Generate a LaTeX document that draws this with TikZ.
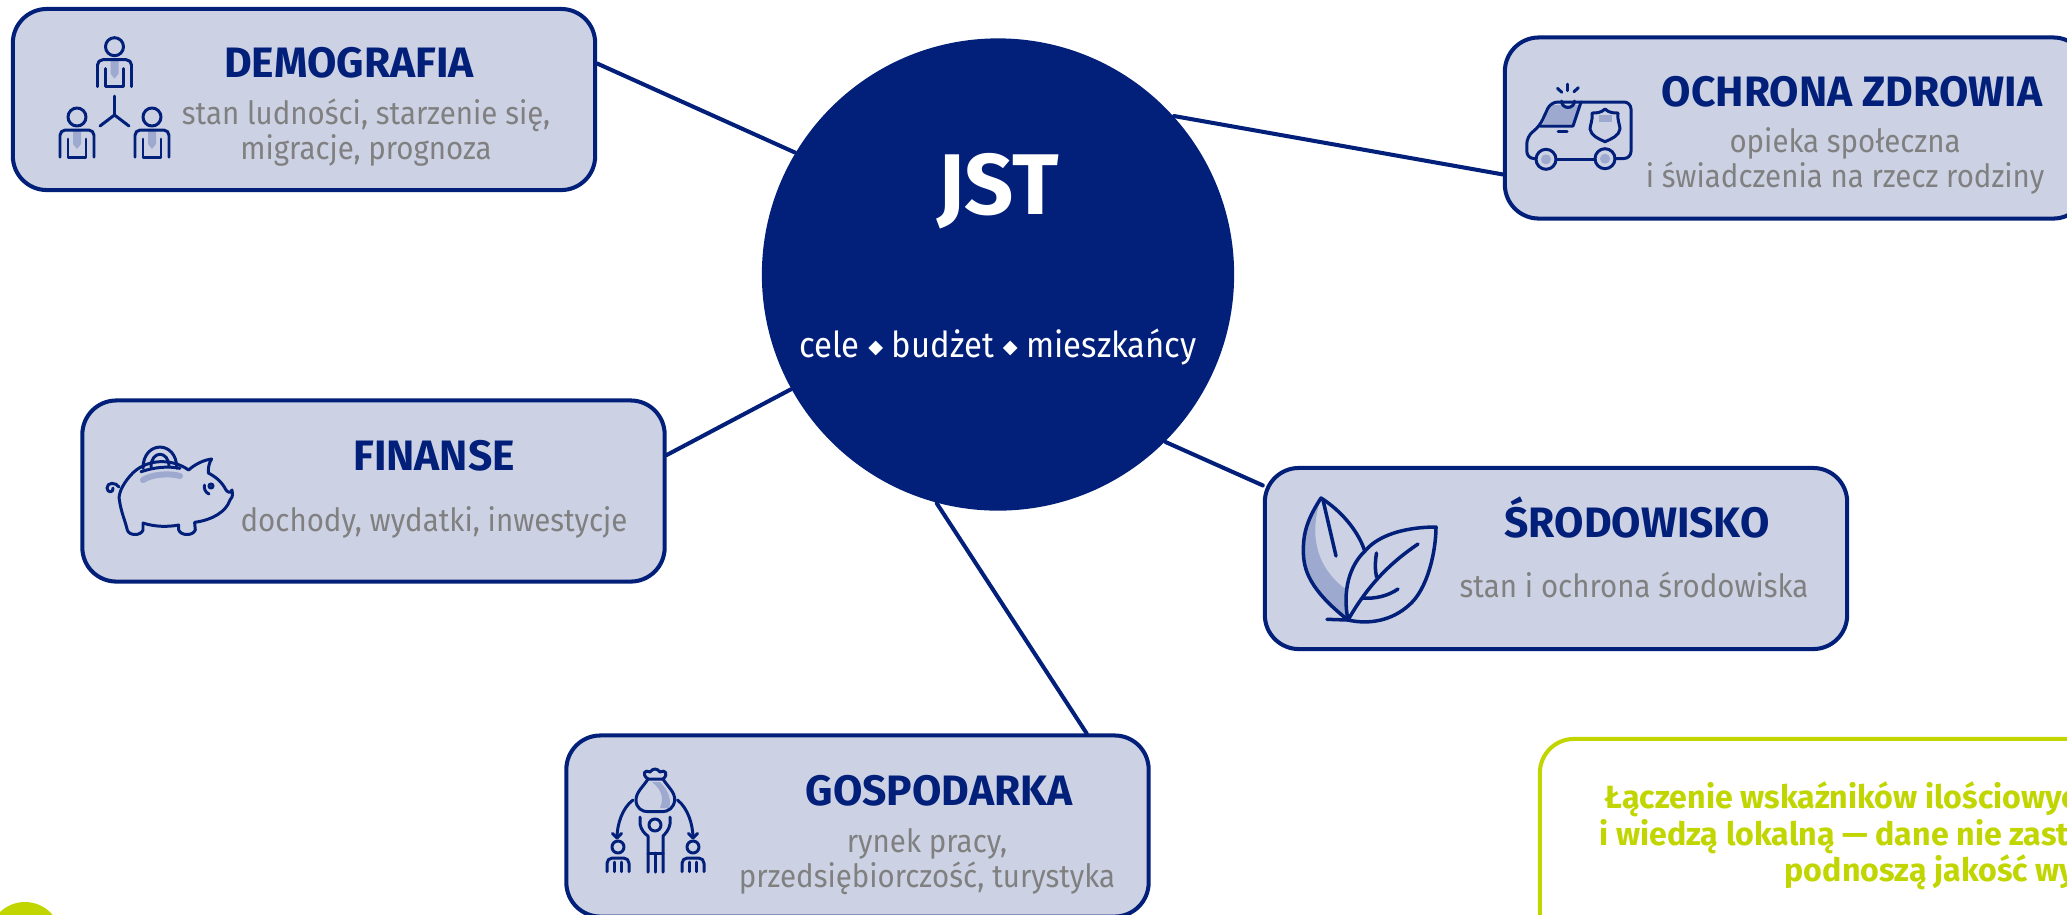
\documentclass[tikz,border=0pt]{standalone}
\usepackage{fontspec}
\setmainfont{Fira Sans}
\newfontfamily\symfont{DejaVu Sans}
\newfontfamily\opisfont{Fira Sans}[FakeStretch=0.92]
\definecolor{granat}{HTML}{02207A}
\definecolor{jasny}{HTML}{CCD2E4}
\definecolor{akcent}{HTML}{9DA9CE}
\definecolor{szary}{HTML}{808080}
\definecolor{limonka}{HTML}{C1D600}
\newcommand{\romb}{\raisebox{1.1pt}{\symfont\fontsize{5.5}{6}\selectfont ◆}}
\tikzset{
	kafel/.style={draw=granat,fill=jasny,line width=1.15pt,rounded corners=0.34cm,minimum width=5.82cm,minimum height=1.81cm,inner sep=0pt},
	naglowek/.style={text=granat,inner sep=0pt,font=\fontsize{12.1}{14}\selectfont\bfseries},
	opis/.style={text=szary,inner sep=0pt,align=center,font=\opisfont\fontsize{9.1}{10}\selectfont},
	linia/.style={draw=granat,line width=1.15pt},
	ikona/.style={draw=granat,line width=0.85pt,line cap=round,line join=round},
	plama/.style={fill=akcent,draw=none},
	osoba/.pic={
		\path[plama] (-4,13)--(4,13)--(4,27)--(0,32)--(-4,27)--cycle;
		\draw[ikona] (0,0) circle (9);
		\draw[ikona,rounded corners=1.5pt] (-17,40)--(-17,13)--(17,13)--(17,40);
		\draw[ikona] (-9,22)--(-9,40)--(9,40)--(9,22);
	}
}
\begin{document}
\begin{tikzpicture}[x=0.01cm,y=-0.01cm,line cap=round,line join=round]
	\useasboundingbox (0,0) rectangle (2067,914);
	\clip (0,0) rectangle (2067,914);
	% centre
	\node[circle,fill=granat,minimum size=4.72cm,inner sep=0pt] (jst) at (998,274.5) {};
	\node[text=white,inner sep=0pt,font=\fontsize{24.5}{26}\selectfont\bfseries] (jstnapis) at (998,191) {JST};
	\node[text=white,inner sep=0pt,font=\opisfont\fontsize{10.15}{12}\selectfont] (jstopis) at (998,347) {cele \romb{} budżet \romb{} mieszkańcy};
	% kafle
	\node[kafel] (demografia) at (304,99.5) {};
	\node[kafel] (zdrowie) at (1796,128) {};
	\node[kafel] (finanse) at (373.5,491) {};
	\node[kafel] (srodowisko) at (1556,558.5) {};
	\node[kafel] (gospodarka) at (857.5,826) {};
	\node[draw=limonka,fill=white,line width=1.15pt,rounded corners=0.34cm,minimum width=5.8cm,minimum height=2.2cm] (uwaga) at (1830,849) {};
	\node[circle,fill=limonka,minimum size=0.72cm,inner sep=0pt] (kropka) at (25,938) {};
	% linie
	\draw[linia] (demografia.7.15) -- (jst.149.6);
	\draw[linia] (zdrowie.189) -- (jst.42.1);
	\draw[linia] (finanse.7.6) -- (jst.209);
	\draw[linia] (srodowisko.166.7) -- (jst.-45.3);
	\draw[linia] (gospodarka.22.8) -- (jst.255.3);
	% teksty
	\node[naglowek] (t1) at (349,63) {DEMOGRAFIA};
	\node[opis] (o1) at (366,132.5) {stan ludności, starzenie się,\\migracje, prognoza};
	\node[naglowek] (t2) at (1852,92) {OCHRONA ZDROWIA};
	\node[opis] (o2) at (1845,161) {opieka społeczna\\i świadczenia na rzecz rodziny};
	\node[naglowek] (t3) at (434,456) {FINANSE};
	\node[opis] (o3) at (434,522) {dochody, wydatki, inwestycje};
	\node[naglowek] (t4) at (1637,518) {ŚRODOWISKO};
	\node[opis] (o4) at (1634,585) {stan i ochrona środowiska};
	\node[naglowek] (t5) at (939,791) {GOSPODARKA};
	\node[opis] (o5) at (927,862) {rynek pracy,\\przedsiębiorczość, turystyka};
	\begin{scope}[every node/.style={text=limonka,inner sep=0pt,anchor=base west,font=\fontsize{9.15}{11}\selectfont\bfseries}]
		\node (u1) at (1604,808) {Łączenie wskaźników ilościowyc};
		\node (u2) at (1599,845) {i wiedzą lokalną — dane nie zast};
		\node (u3) at (1784,881) {podnoszą jakość wy};
	\end{scope}
	% demografia
	\pic at (114.5,46.7) {osoba};
	\pic at (77,117) {osoba};
	\pic at (152,117) {osoba};
	\draw[ikona] (114.5,96) -- (114.5,115) -- (100,126);
	\draw[ikona] (114.5,115) -- (129,126);
	% karetka
	\path[plama] (1550.7,105) -- (1580,105) -- (1573,124) -- (1543,124) -- cycle;
	\path[plama] (1546,159.3) circle (5) (1605,158.7) circle (5);
	\path[plama] (1598.6,115) -- (1611.5,115) -- (1611.5,121.7) -- (1598.6,121.7) -- cycle;
	\draw[ikona,rounded corners=2pt] (1536,158.5) -- (1526.8,158.5) -- (1526.8,136.7) -- (1539.7,126) -- (1550.7,102) -- (1631,102) -- (1631,158.5) -- (1615,158.5);
	\draw[ikona] (1556,159) -- (1595,159);
	\draw[ikona] (1546,159.3) circle (10) (1605,158.7) circle (10);
	\draw[ikona] (1581,102) -- (1573,126) -- (1539.7,126);
	\draw[ikona] (1558,131.7) -- (1567,131.7);
	\draw[ikona] (1605,109) .. controls (1601,113) and (1596,113) .. (1592,113) .. controls (1593,120) and (1590,125) .. (1590,129) .. controls (1591,136) and (1599,139) .. (1605,141.7) .. controls (1611,139) and (1619,136) .. (1620,129) .. controls (1620,125) and (1617,120) .. (1618,113) .. controls (1614,113) and (1609,113) .. (1605,109);
	\draw[ikona] (1561.5,101) arc (180:0:6.5);
	\draw[ikona] (1567.5,84) -- (1567.5,90.7);
	\draw[ikona] (1557.4,88.3) -- (1561.8,92.3);
	\draw[ikona] (1578.3,87.7) -- (1574,91.7);
	% skarbonka
	\draw[akcent,line width=1.7pt] (143,480) .. controls (152,474) and (170,473) .. (180,476);
	\draw[ikona] (127.3,530) .. controls (129,536) and (141,536) .. (143,530) -- (143,523) .. controls (155,527) and (168,527) .. (178.7,525) -- (178.7,530) .. controls (181,536) and (193,536) .. (195.3,530) -- (194.6,522.3) .. controls (212,520) and (226,512) .. (230,500) .. controls (234,496) and (232,492) .. (232,490) .. controls (230,494) and (228,492) .. (226,490) .. controls (222,482) and (216,477) .. (208.4,473) .. controls (208,468) and (209,463) .. (211.6,459) .. controls (203,460) and (194,465) .. (188.6,470) .. controls (172,458) and (145,458) .. (130,476) .. controls (122,485) and (118,495) .. (119.4,500) .. controls (121,512) and (125,520) .. (127.3,530);
	\draw[ikona] (143,468.3) .. controls (143,440) and (177,440) .. (176.8,468.3);
	\draw[ikona] (151,467) .. controls (151,450) and (169,450) .. (169,467);
	\draw[ikona] (141,471.7) .. controls (155,467) and (168,466) .. (180,468.3);
	\draw[ikona] (119,487) .. controls (116,482) and (107,482) .. (107,488) .. controls (107,493) and (114,493) .. (113,488);
	\draw[ikona] (211,486) circle (2);
	\draw[ikona] (204.5,485) .. controls (204,489) and (205,492) .. (209,494);
	% liscie
	\path[plama] (1321,498) .. controls (1310,515) and (1303,530) .. (1303.4,550) .. controls (1303,570) and (1310,590) .. (1348,620) -- (1347,590) .. controls (1325,575) and (1305,545) .. (1321,498);
	\draw[ikona,line width=1pt] (1348,620) .. controls (1310,590) and (1303,570) .. (1303.4,550) .. controls (1303,530) and (1310,515) .. (1321,498) .. controls (1340,510) and (1358,530) .. (1364.7,551);
	\draw[ikona,line width=1pt] (1323,500) -- (1336,556);
	\draw[ikona,line width=1pt] (1327,619.3) -- (1348,620) .. controls (1342,590) and (1350,565) .. (1365,551) .. controls (1380,533) and (1410,527) .. (1436,527) .. controls (1436,550) and (1428,590) .. (1408,606) .. controls (1392,620) and (1370,625) .. (1348,620);
	\draw[ikona,line width=1pt] (1348,620) .. controls (1368,585) and (1390,563) .. (1418,544);
	\draw[ikona,line width=1pt] (1376.5,553) .. controls (1375,562) and (1375,570) .. (1376.5,577);
	\draw[ikona,line width=1pt] (1362.7,598) .. controls (1375,599) and (1388,596) .. (1398,589);
	% gospodarka
	\path[plama] (652,782) -- (660,782) .. controls (668,790) and (672,800) .. (669,808) -- (660,808) .. controls (664,798) and (662,790) .. (652,782);
	\draw[ikona] (648,779) -- (663,779) .. controls (668,787) and (675,792) .. (674.7,800) .. controls (674,808) and (668,811.7) .. (662,811.7) -- (648,811.7) .. controls (642,811.7) and (636,808) .. (636,800) .. controls (636,792) and (643,787) .. (648,779);
	\draw[ikona] (648,779) .. controls (641,774) and (645,769) .. (650,772) .. controls (653,768) and (657,768) .. (660,772) .. controls (665,769) and (669,774) .. (663,779);
	\draw[ikona] (633,800) .. controls (622,808) and (617,825) .. (617,838);
	\draw[ikona] (612.5,833.5) -- (617,838) -- (621.5,833.5);
	\draw[ikona] (677.4,800) .. controls (688,808) and (693,825) .. (693,838);
	\draw[ikona] (688.5,833.5) -- (693,838) -- (697.5,833.5);
	\draw[ikona] (655,825) circle (6);
	\draw[ikona] (640,817) -- (640,824) .. controls (641,830) and (645,834) .. (648,836) -- (648,872);
	\draw[ikona] (670,817) -- (670,824) .. controls (669,830) and (665,834) .. (663,836) -- (663,872);
	\draw[ikona] (655,853) -- (655,872);
	\draw[ikona] (648,853) -- (663,853);
	\foreach \sx in {618,693}{
		\draw[ikona] (\sx,847) circle (6);
		\draw[ikona,rounded corners=1.5pt] (\sx-11,871.7) -- (\sx-11,858) -- (\sx+11,858) -- (\sx+11,871.7);
		\draw[ikona] (\sx-3.5,862) -- (\sx-3.5,871.7) (\sx+3.5,862) -- (\sx+3.5,871.7);
	}
\end{tikzpicture}
\end{document}
